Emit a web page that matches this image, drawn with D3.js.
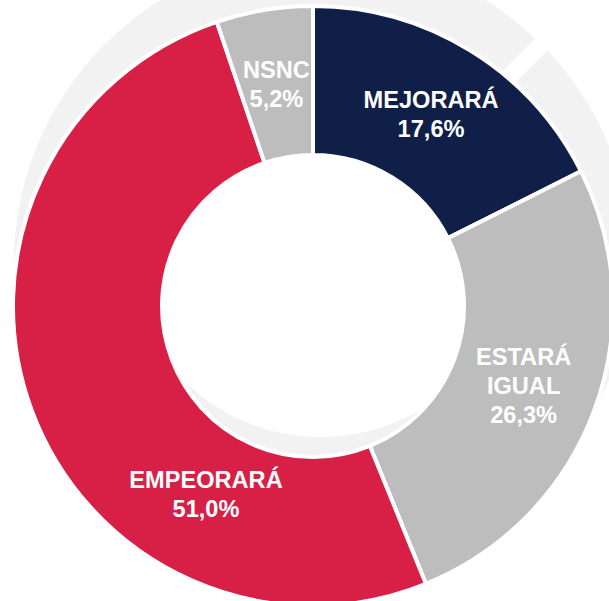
<!DOCTYPE html>
<html>
<head>
<meta charset="utf-8">
<script src="https://d3js.org/d3.v7.min.js"></script>
<style>
  body { margin: 0; background: #fff; overflow: hidden; }
  .lbl { font-family: "Liberation Sans", Arial, sans-serif; font-weight: bold; fill: #fff; font-size: 23.6px; }
</style>
</head>
<body>
<script>
// data
var categories = ["MEJORARÁ", "ESTARÁ IGUAL", "EMPEORARÁ", "NSNC"];
var values = [17.6, 26.3, 51.0, 5.2];
var valueLabels = ["17,6%", "26,3%", "51,0%", "5,2%"];
var colors = ["#101f48", "#bdbdbd", "#d81f45", "#bdbdbd"];

var width = 609, height = 601;
var cx = 313, cy = 306;
var outerR = 300, innerR = 151;
var lineH = 29;

var svg = d3.select("body").append("svg")
    .attr("width", width)
    .attr("height", height);

// light grey "3d" ring behind the donut
var shadow = svg.append("g");
shadow.append("circle")
    .attr("cx", cx + 10).attr("cy", cy - 43)
    .attr("r", 309)
    .attr("fill", "#f2f2f2");
shadow.append("circle")
    .attr("cx", cx + 8).attr("cy", cy - 64)
    .attr("r", 195)
    .attr("fill", "#fff");
shadow.append("line")
    .attr("x1", cx + 10).attr("y1", cy - 43)
    .attr("x2", cx + 10 + 400 * Math.sin(Math.PI / 4))
    .attr("y2", cy - 43 - 400 * Math.cos(Math.PI / 4))
    .attr("stroke", "#fff")
    .attr("stroke-width", 17);

var g = svg.append("g")
    .attr("transform", "translate(" + cx + "," + cy + ")");

var pie = d3.pie().sort(null).value(function(d) { return d; });
var arcs = pie(values);

var arc = d3.arc().innerRadius(innerR).outerRadius(outerR);

g.selectAll(".slice")
    .data(arcs)
    .enter().append("path")
    .attr("class", "slice")
    .attr("d", arc)
    .attr("fill", function(d, i) { return colors[i]; })
    .attr("stroke", "#fff")
    .attr("stroke-width", 4);

// labels sit on a ring of radius ~225, EMPEORARÁ is pulled down a bit
var labelArc = d3.arc().innerRadius(225).outerRadius(225);
var labelOverride = { 2: { angle: 209.7 * Math.PI / 180, r: 216 } };

arcs.forEach(function(d, i) {
    var pos;
    if (labelOverride[i]) {
        var o = labelOverride[i];
        pos = [o.r * Math.sin(o.angle), -o.r * Math.cos(o.angle)];
    } else {
        pos = labelArc.centroid(d);
    }
    var lines = categories[i].split(" ").concat([valueLabels[i]]);
    var first = -(lines.length - 1) * lineH / 2 + 8.4;
    var t = g.append("text")
        .attr("class", "lbl")
        .attr("text-anchor", "middle")
        .attr("x", pos[0])
        .attr("y", pos[1] + first);
    lines.forEach(function(s, k) {
        t.append("tspan")
            .attr("x", pos[0])
            .attr("y", pos[1] + first + k * lineH)
            .text(s);
    });
});
</script>
</body>
</html>
